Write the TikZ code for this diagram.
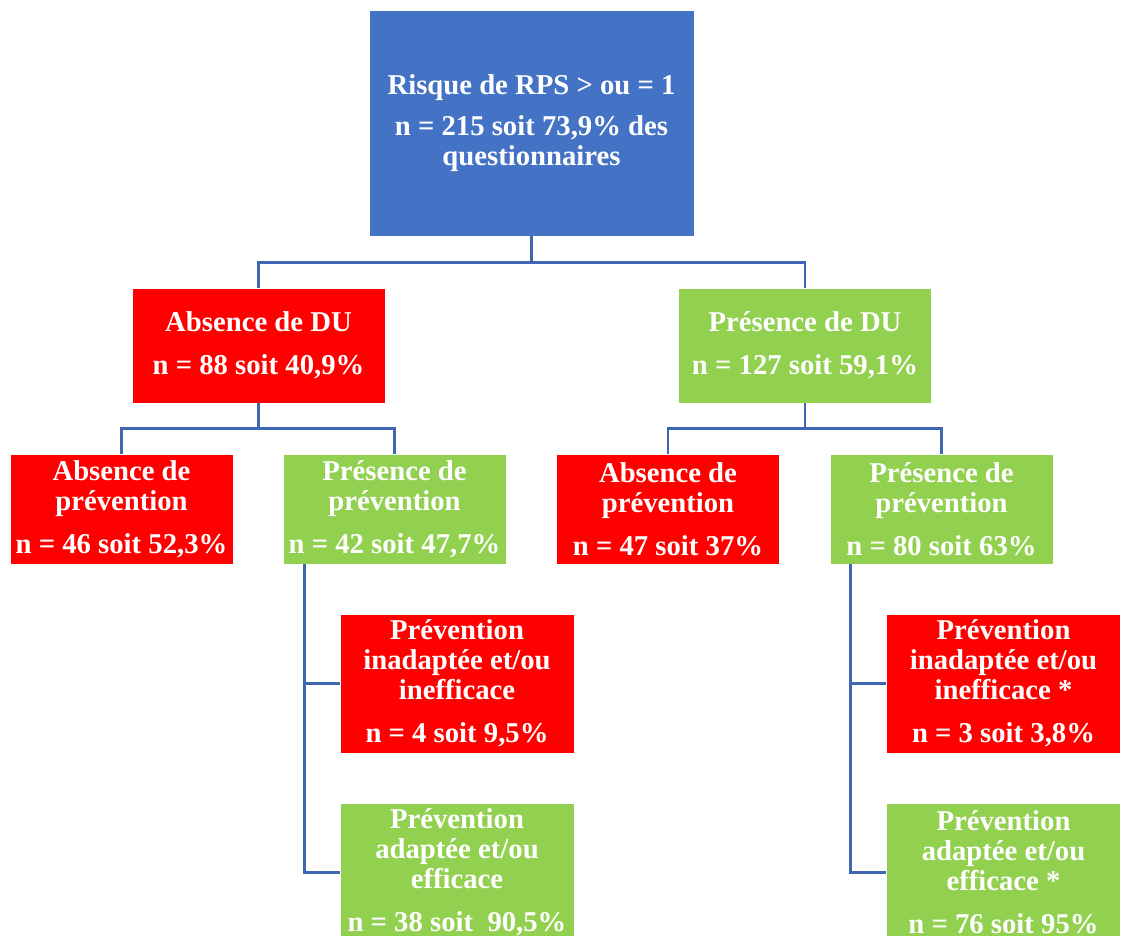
\documentclass[tikz,border=0pt]{standalone}
\usepackage{fontspec}
\setmainfont{Liberation Serif}
\usepackage{tikz}
\usetikzlibrary{positioning}
\definecolor{rootblue}{HTML}{4472C4}
\definecolor{nored}{HTML}{FF0000}
\definecolor{yesgreen}{HTML}{92D050}
\definecolor{linkblue}{HTML}{3F66B3}

\tikzset{
  box/.style={rectangle, draw=white, line width=0.8pt, text=white, align=center, inner sep=0pt,
    font=\fontsize{28.7}{30}\selectfont\bfseries},
  redbox/.style={box, fill=nored},
  greenbox/.style={box, fill=yesgreen},
  dubox/.style={minimum width=253pt, minimum height=115pt},
  prevbox/.style={minimum width=223pt, minimum height=110pt},
  qualbox/.style={minimum width=234pt, minimum height=139pt},
  link/.style={draw=linkblue, line width=2.6pt},
}

\begin{document}
\begin{tikzpicture}[x=1pt, y=-1pt]
  % Frame
  \useasboundingbox (0,0) rectangle (1121,935);
  \clip (0,0) rectangle (1121,935);

  % Root
  \node[box, fill=rootblue, minimum width=325pt, minimum height=226pt] (root) at (531.5,123)
    {Risque de RPS > ou = 1\\[11pt] n = 215 soit 73,9\% des\\ questionnaires};

  % Level 1: DU
  \node[redbox, dubox] (noDU) at (258.5,345.5) {Absence de DU\\[13pt] n = 88 soit 40,9\%};
  \node[greenbox, dubox] (yesDU) at (805,345.5) {Présence de DU\\[13pt] n = 127 soit 59,1\%};

  % Level 2: prevention
  \node[redbox, prevbox] (noPrevA) at (121.5,509) {Absence de\\ prévention\\[13pt] n = 46 soit 52,3\%};
  \node[greenbox, prevbox] (yesPrevA) at (394.5,509) {Présence de\\ prévention\\[13pt] n = 42 soit 47,7\%};
  \node[redbox, prevbox] (noPrevB) at (668,509) {Absence de\\ prévention\\[13pt] n = 47 soit 37\%};
  \node[greenbox, prevbox] (yesPrevB) at (941.5,509) {Présence de\\ prévention\\[13pt] n = 80 soit 63\%};

  % Level 3: quality of prevention
  \node[redbox, qualbox] (badA) at (457,683.5) {Prévention\\ inadaptée et/ou\\ inefficace\\[13pt] n = 4 soit 9,5\%};
  \node[greenbox, qualbox] (goodA) at (457,872.5) {Prévention\\ adaptée et/ou\\ efficace\\[13pt] n = 38 soit~ 90,5\%};
  \node[redbox, qualbox] (badB) at (1003.5,683.5) {Prévention\\ inadaptée et/ou\\ inefficace *\\[13pt] n = 3 soit 3,8\%};
  \node[greenbox, qualbox] (goodB) at (1003.5,872.5) {Prévention\\ adaptée et/ou\\ efficace *\\[13pt] n = 76 soit 95\%};

  % Connectors
  \draw[link] (root.south) -- ++(0,26) -| (noDU.north);
  \draw[link] (root.south) -- ++(0,26) -| (yesDU.north);
  \draw[link] (noDU.south) -- ++(0,25) -| (noPrevA.north);
  \draw[link] (noDU.south) -- ++(0,25) -| (yesPrevA.north);
  \draw[link] (yesDU.south) -- ++(0,25) -| (noPrevB.north);
  \draw[link] (yesDU.south) -- ++(0,25) -| (yesPrevB.north);
  \draw[link] ([xshift=22pt]yesPrevA.south west) |- (badA.west);
  \draw[link] ([xshift=22pt]yesPrevA.south west) |- (goodA.west);
  \draw[link] ([xshift=21pt]yesPrevB.south west) |- (badB.west);
  \draw[link] ([xshift=21pt]yesPrevB.south west) |- (goodB.west);
\end{tikzpicture}
\end{document}
